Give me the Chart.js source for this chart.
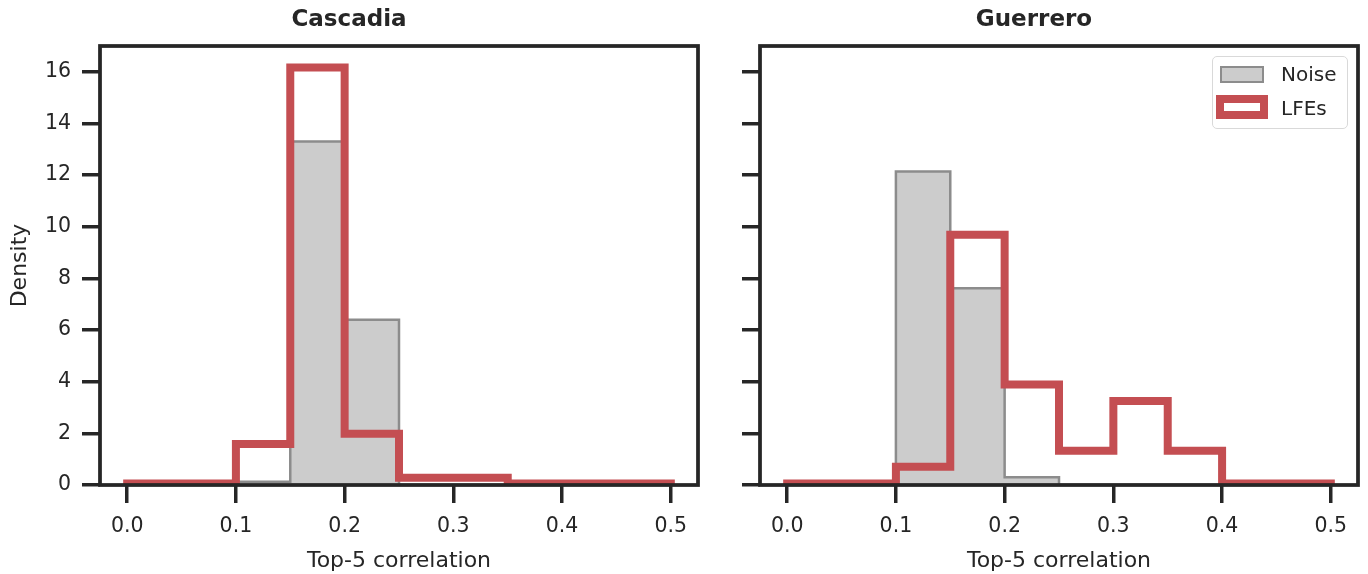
<!DOCTYPE html>
<html>
<head>
<meta charset="utf-8">
<script src="https://cdn.jsdelivr.net/npm/chart.js@4.4.1/dist/chart.umd.min.js"></script>
<style>
  body{margin:0;background:#fff;width:1368px;height:574px;position:relative;overflow:hidden;
       font-family:"DejaVu Sans",sans-serif;color:#262626}
  canvas{position:absolute;top:0}
  #c1{left:0}
  #c2{left:710px}
  .legend{position:absolute;left:1212px;top:56px;width:136px;height:73px;box-sizing:border-box;
          border:1.5px solid #d9d9d9;border-radius:5px;background:rgba(255,255,255,.8)}
  .patch{position:absolute;box-sizing:border-box}
  .lbl{position:absolute;font-size:20px;line-height:24px}
</style>
</head>
<body>
<canvas id="c1" width="710" height="574"></canvas>
<canvas id="c2" width="658" height="574"></canvas>

<div class="legend"></div>
<div class="patch" style="left:1220px;top:66px;width:44px;height:17px;background:#cccccc;border:2.5px solid #8c8c8c"></div>
<div class="lbl" style="left:1281px;top:62px">Noise</div>
<div class="patch" style="left:1216px;top:95px;width:52px;height:24px;background:#fff;border:8px solid #c44e52"></div>
<div class="lbl" style="left:1281px;top:96px">LFEs</div>

<script>
/* ---------- данные (гистограммы, ширина бина 0.05) ---------- */
const binEdges = [0, 0.05, 0.10, 0.15, 0.20, 0.25, 0.30, 0.35, 0.40, 0.45, 0.50];

const cascadiaNoise = [0, 0, 0.13, 13.3, 6.4, 0, 0, 0, 0, 0];
const cascadiaLFEs  = [0.06, 0.06, 1.59, 16.17, 1.98, 0.28, 0.28, 0.06, 0.06, 0.06];

const guerreroNoise = [0, 0, 12.14, 7.62, 0.3, 0, 0, 0, 0, 0];
const guerreroLFEs  = [0.06, 0.06, 0.71, 9.69, 3.89, 1.33, 3.25, 1.33, 0.06, 0.06];

const xTicks = [0, 0.1, 0.2, 0.3, 0.4, 0.5];
const yTicks = [0, 2, 4, 6, 8, 10, 12, 14, 16];

/* ---------- стиль ---------- */
const INK = '#262626';
const FONT = '"DejaVu Sans", sans-serif';
const RED = '#c44e52';

/* ступенчатый контур: (e0,0),(e_i,v_i)...,(e_last,0) */
const steps = vals => [
  {x: binEdges[0], y: 0},
  ...vals.map((v, i) => ({x: binEdges[i], y: v})),
  {x: binEdges[binEdges.length - 1], y: 0}
];

/* рамка вокруг области графика */
const frame = {
  id: 'frame',
  afterDraw(chart) {
    const {ctx, chartArea: a} = chart;
    ctx.save();
    ctx.strokeStyle = INK;
    ctx.lineWidth = 3.75;
    ctx.strokeRect(a.left, a.top, a.right - a.left, a.bottom - a.top);
    ctx.restore();
  }
};

const tickGrid = {drawOnChartArea: false, tickLength: 18, lineWidth: 3.5, tickWidth: 3.5, tickColor: INK};

function makeChart(id, title, noise, lfes, yWidth, padRight, showYLabels) {
  return new Chart(document.getElementById(id), {
    type: 'line',
    data: {
      datasets: [
        {
          label: 'LFEs', data: steps(lfes), stepped: true,
          borderColor: RED, borderWidth: 8, borderJoinStyle: 'miter', borderCapStyle: 'butt',
          fill: false, pointRadius: 0, clip: 0, order: 0
        },
        {
          label: 'Noise', data: steps(noise), stepped: true,
          borderColor: '#8c8c8c', borderWidth: 2.5, backgroundColor: '#cccccc',
          borderJoinStyle: 'miter', fill: 'origin', pointRadius: 0, clip: 0, order: 1
        }
      ]
    },
    options: {
      responsive: false, animation: false,
      layout: {padding: {left: 0, right: padRight, top: 0, bottom: 0}},
      plugins: {
        legend: {display: false},
        tooltip: {enabled: false},
        title: {
          display: true, text: title, color: INK,
          font: {family: FONT, size: 23, weight: 'bold'},
          padding: {top: 6, bottom: 12.4}
        }
      },
      scales: {
        x: {
          type: 'linear', min: -0.025, max: 0.525,
          afterBuildTicks: s => { s.ticks = xTicks.map(v => ({value: v})); },
          afterFit: s => { s.height = 89; },
          ticks: {
            color: INK, font: {family: FONT, size: 20.5}, padding: 11,
            autoSkip: false, maxRotation: 0, callback: v => v.toFixed(1)
          },
          grid: tickGrid,
          border: {display: false},
          title: {display: true, text: 'Top-5 correlation', color: INK,
                  font: {family: FONT, size: 22}, padding: {top: 0, bottom: 0}}
        },
        y: {
          min: 0, max: 17,
          afterBuildTicks: s => { s.ticks = yTicks.map(v => ({value: v})); },
          afterFit: s => { s.width = yWidth; },
          ticks: {
            color: INK, font: {family: FONT, size: 20.5}, padding: 11,
            callback: v => showYLabels ? String(v) : ''
          },
          grid: tickGrid,
          border: {display: false},
          title: {display: showYLabels, text: 'Density', color: INK,
                  font: {family: FONT, size: 22}, padding: {top: 7, bottom: 0}}
        }
      }
    },
    plugins: [frame]
  });
}

makeChart('c1', 'Cascadia', cascadiaNoise, cascadiaLFEs, 100, 12, true);
makeChart('c2', 'Guerrero', guerreroNoise, guerreroLFEs, 50, 10, false);
</script>
</body>
</html>
